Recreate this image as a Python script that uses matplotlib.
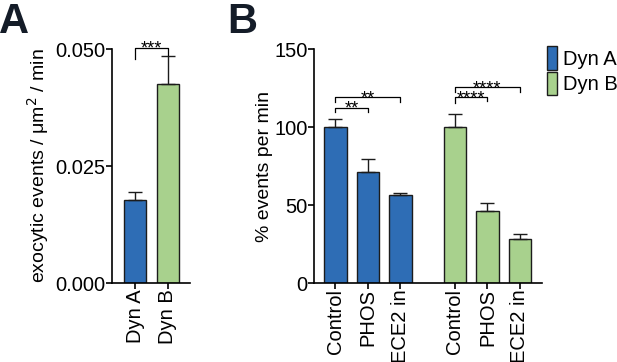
import matplotlib
matplotlib.use("Agg")
import matplotlib.pyplot as plt
from matplotlib.patches import Patch

plt.rcParams['font.family'] = ['Liberation Sans', 'DejaVu Sans']

# panel A data
a_labels = ['Dyn A', 'Dyn B']
a_means = [0.0177, 0.0425]
a_errs = [0.0018, 0.0061]

# panel B data
b_labels = ['Control', 'PHOS', 'ECE2 in', 'Control', 'PHOS', 'ECE2 in']
b_pos = [0, 1, 2, 3.68, 4.68, 5.68]
b_means = [100, 71.4, 56.2, 100, 46.4, 28.2]
b_errs = [5.3, 8.3, 1.7, 8.3, 4.7, 3.0]

blue = '#2e6db5'
green = '#a8d18d'
edge = '#1c1c1c'
b_colors = [blue] * 3 + [green] * 3

fig = plt.figure(figsize=(6.17, 3.62), dpi=100)

def style(ax):
    for s in ['top', 'right']:
        ax.spines[s].set_visible(False)
    for s in ['left', 'bottom']:
        ax.spines[s].set_linewidth(1.2)
    ax.tick_params(direction='out', length=4, width=1.2, labelsize=14.5, pad=0.5)

def bracket(ax, x1, x2, y, h1, h2, text, fs=13):
    ax.plot([x1, x1, x2, x2], [y - h1, y, y, y - h2], color='k', lw=0.9, clip_on=False)
    # stars sit just above the bracket line
    ax.annotate(text, xy=((x1 + x2) / 2, y), xytext=(0, -4.5), textcoords='offset points',
                ha='center', va='baseline', fontsize=fs, annotation_clip=False)

# ---- A
axA = fig.add_axes([0.1815, 0.2182, 0.1264, 0.6464])
axA.bar([0, 1], a_means, width=0.67, color=[blue, green], edgecolor=edge, linewidth=1.0,
        yerr=[[0, 0], a_errs], error_kw=dict(ecolor=edge, elinewidth=1.0, capsize=5, capthick=1.0))
axA.set_xlim(-0.70, 1.67)
axA.set_ylim(0, 0.05)
axA.set_yticks([0, 0.025, 0.05])
axA.set_yticklabels(['0.000', '0.025', '0.050'])
axA.set_xticks([0, 1])
axA.set_xticklabels(a_labels, rotation=90)
style(axA)
axA.set_ylabel('exocytic events / μm$^2$ / min', fontsize=14, labelpad=3)
bracket(axA, 0, 1, 0.0503, 0.0024, 0.0016, '***')

# ---- B
axB = fig.add_axes([0.5089, 0.2182, 0.3695, 0.6464])
axB.bar(b_pos, b_means, width=0.69, color=b_colors, edgecolor=edge, linewidth=1.0,
        yerr=[[0] * 6, b_errs], error_kw=dict(ecolor=edge, elinewidth=1.0, capsize=5, capthick=1.0))
axB.set_xlim(-0.66, 6.36)
axB.set_ylim(0, 150)
axB.set_yticks([0, 50, 100, 150])
axB.set_xticks(b_pos)
axB.set_xticklabels(b_labels, rotation=90)
style(axB)
axB.set_ylabel('% events per min', fontsize=14, labelpad=1)
bracket(axB, 0, 1, 112.4, 2.5, 2.5, '**')
bracket(axB, 0, 2, 119.4, 3.5, 3.5, '**')
bracket(axB, 3.68, 4.68, 119.0, 3.5, 2.5, '****')
bracket(axB, 3.68, 5.68, 125.8, 3.5, 3.5, '****')

handles = [Patch(facecolor=blue, edgecolor=edge, label='Dyn A'),
           Patch(facecolor=green, edgecolor=edge, label='Dyn B')]
fig.legend(handles=handles, loc='upper left', bbox_to_anchor=(0.887, 0.872), frameon=False,
           fontsize=14.5, handlelength=0.5, handleheight=1.4, handletextpad=0.3,
           labelspacing=0.1, borderaxespad=0, borderpad=0)

fig.text(-0.002, 0.995, 'A', fontsize=30, fontweight='bold', va='top', ha='left', color='#141c28')
fig.text(0.368, 0.995, 'B', fontsize=30, fontweight='bold', va='top', ha='left', color='#141c28')

fig.savefig('out.png', dpi=100)
